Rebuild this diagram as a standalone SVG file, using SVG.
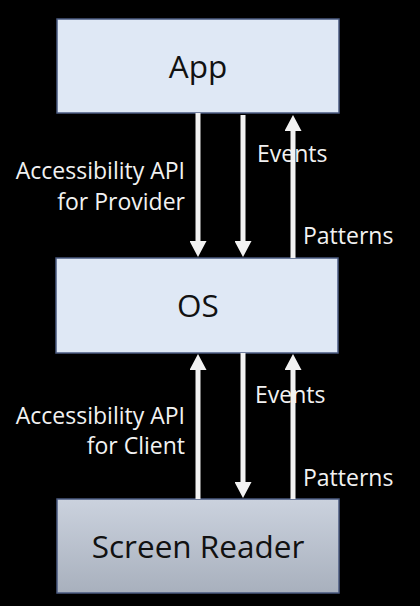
<svg xmlns="http://www.w3.org/2000/svg" width="420" height="606" viewBox="0 0 420 606">
<defs>
<linearGradient id="srGrad" x1="0" y1="0" x2="0" y2="1">
<stop offset="0" stop-color="#cbd2de"/>
<stop offset="1" stop-color="#a8b0bd"/>
</linearGradient>
<marker id="head" viewBox="0 0 16 17" refX="8" refY="8.5" markerWidth="16" markerHeight="17" markerUnits="userSpaceOnUse" orient="auto">
<path d="M0,0 L16,8.5 L0,17 z" fill="#f2f2f2"/>
</marker>
</defs>
<style>
.box{fill:#dfe8f5;stroke:#4a5a80;stroke-width:1.5}
.sr{fill:url(#srGrad);stroke:#4a5a80;stroke-width:1.5}
.bl{font-family:"Open Sans","Noto Sans",sans-serif;font-size:31.5px;fill:#111;text-anchor:middle}
.lbl{font-family:"Open Sans","Noto Sans",sans-serif;font-size:23px;fill:#f2f2f2}
.r{text-anchor:end}
.arr{stroke:#f2f2f2;stroke-width:5;fill:none;marker-end:url(#head)}
</style>
<rect width="420" height="606" fill="#000"/>
<g id="app"><rect class="box" x="57" y="19" width="282" height="94"/><text class="bl" x="198" y="78">App</text></g>
<g id="os"><rect class="box" x="56" y="258" width="282" height="95"/><text class="bl" x="198" y="317">OS</text></g>
<g id="screen-reader"><rect class="sr" x="57" y="499" width="282" height="94"/><text class="bl" x="198" y="558">Screen Reader</text></g>
<g id="connectors">
<line class="arr" x1="198" y1="113" x2="198" y2="249"/>
<line class="arr" x1="243" y1="115" x2="243" y2="249"/>
<line class="arr" x1="293" y1="258" x2="293" y2="123"/>
<line class="arr" x1="198" y1="499" x2="198" y2="362"/>
<line class="arr" x1="243" y1="353" x2="243" y2="490"/>
<line class="arr" x1="293" y1="499" x2="293" y2="362"/>
</g>
<g id="labels">
<text class="lbl r" x="185" y="179">Accessibility API</text>
<text class="lbl r" x="185" y="210">for Provider</text>
<text class="lbl" x="257" y="162">Events</text>
<text class="lbl" x="303" y="244">Patterns</text>
<text class="lbl r" x="185" y="424">Accessibility API</text>
<text class="lbl r" x="185" y="454">for Client</text>
<text class="lbl" x="255" y="403">Events</text>
<text class="lbl" x="303" y="486">Patterns</text>
</g>
</svg>
